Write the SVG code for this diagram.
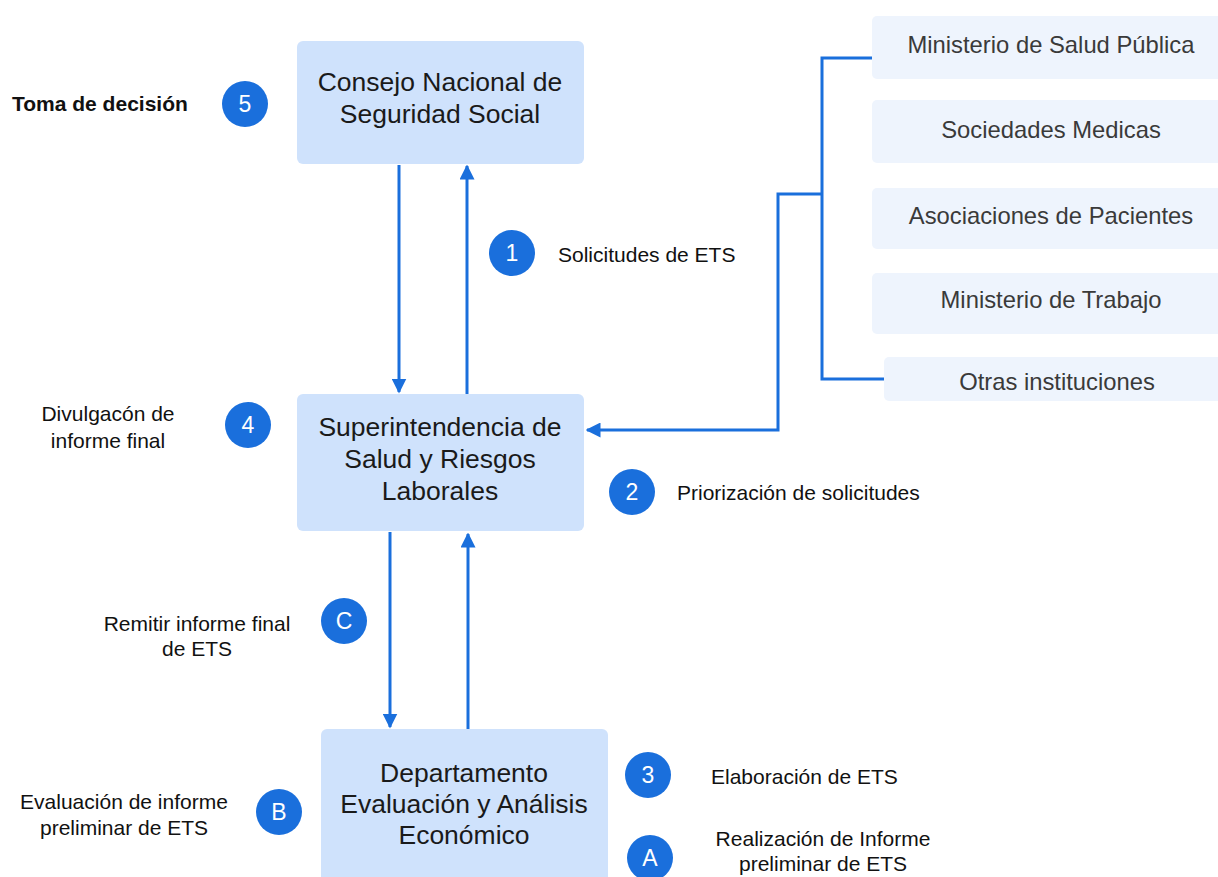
<svg xmlns="http://www.w3.org/2000/svg" width="1218" height="877" viewBox="0 0 1218 877">
<defs>
<marker id="ah" viewBox="0 0 10 10" refX="9" refY="5" markerWidth="5" markerHeight="5" orient="auto" markerUnits="strokeWidth">
<path d="M0,0 L10,5 L0,10 z" fill="#1a6fdc"/>
</marker>
<style>
.main{fill:#cfe2fc;}
.src{fill:#eef4fd;}
.bt{font-family:"Liberation Sans",Arial,sans-serif;font-size:26.5px;fill:#1a1a1a;text-anchor:middle;}
.st{font-family:"Liberation Sans",Arial,sans-serif;font-size:23.8px;fill:#3a3a3a;text-anchor:middle;}
.lb{font-family:"Liberation Sans",Arial,sans-serif;font-size:21px;fill:#111;}
.lbc{font-family:"Liberation Sans",Arial,sans-serif;font-size:21px;fill:#111;text-anchor:middle;}
.cc{fill:#1a6fdc;}
.ct{font-family:"Liberation Sans",Arial,sans-serif;font-size:23px;fill:#fff;text-anchor:middle;}
.ln{stroke:#1a6fdc;stroke-width:3;fill:none;}
</style>
</defs>
<rect width="1218" height="877" fill="#fff"/>
<g id="connectors">
<line class="ln" x1="399" y1="165" x2="399" y2="392" marker-end="url(#ah)"/>
<line class="ln" x1="467" y1="394" x2="467" y2="166" marker-end="url(#ah)"/>
<line class="ln" x1="390" y1="532" x2="390" y2="727" marker-end="url(#ah)"/>
<line class="ln" x1="468" y1="729" x2="468" y2="534" marker-end="url(#ah)"/>
<polyline class="ln" points="872,58 822,58 822,379 884,379"/>
<polyline class="ln" points="822,194 778,194 778,430 587,430" marker-end="url(#ah)"/>
</g>
<g id="n-consejo">
<rect class="main" x="297" y="41" width="287" height="123" rx="6"/>
<text class="bt" x="440" y="91">Consejo Nacional de</text>
<text class="bt" x="440" y="123">Seguridad Social</text>
</g>
<g id="n-super">
<rect class="main" x="297" y="394" width="287" height="137" rx="6"/>
<text class="bt" x="440" y="436">Superintendencia de</text>
<text class="bt" x="440" y="468">Salud y Riesgos</text>
<text class="bt" x="440" y="500">Laborales</text>
</g>
<g id="n-depto">
<rect class="main" x="321" y="729" width="287" height="160" rx="6"/>
<text class="bt" x="464" y="782">Departamento</text>
<text class="bt" x="464" y="813">Evaluación y Análisis</text>
<text class="bt" x="464" y="844">Económico</text>
</g>
<g id="n-msp">
<rect class="src" x="872" y="16" width="360" height="63" rx="5"/>
<text class="st" x="1051" y="53">Ministerio de Salud Pública</text>
</g>
<g id="n-socmed">
<rect class="src" x="872" y="100" width="360" height="63" rx="5"/>
<text class="st" x="1051" y="138">Sociedades Medicas</text>
</g>
<g id="n-asoc">
<rect class="src" x="872" y="188" width="360" height="61" rx="5"/>
<text class="st" x="1051" y="224">Asociaciones de Pacientes</text>
</g>
<g id="n-mtrab">
<rect class="src" x="872" y="273" width="360" height="61" rx="5"/>
<text class="st" x="1051" y="308">Ministerio de Trabajo</text>
</g>
<g id="n-otras">
<rect class="src" x="884" y="357" width="350" height="44" rx="5"/>
<text class="st" x="1057" y="390">Otras instituciones</text>
</g>
<g id="step-5">
<circle class="cc" cx="245" cy="104" r="23"/>
<text class="ct" x="245" y="112">5</text>
<text class="lb" x="12" y="111" font-weight="bold">Toma de decisión</text>
</g>
<g id="step-1">
<circle class="cc" cx="512" cy="253" r="23"/>
<text class="ct" x="512" y="261">1</text>
<text class="lb" x="558" y="262">Solicitudes de ETS</text>
</g>
<g id="step-4">
<circle class="cc" cx="248" cy="425" r="23"/>
<text class="ct" x="248" y="433">4</text>
<text class="lbc" x="108" y="421">Divulgacón de</text>
<text class="lbc" x="108" y="448">informe final</text>
</g>
<g id="step-2">
<circle class="cc" cx="632" cy="492" r="23"/>
<text class="ct" x="632" y="500">2</text>
<text class="lb" x="677" y="500">Priorización de solicitudes</text>
</g>
<g id="step-C">
<circle class="cc" cx="344" cy="621" r="23"/>
<text class="ct" x="344" y="629">C</text>
<text class="lbc" x="197" y="631">Remitir informe final</text>
<text class="lbc" x="197" y="656">de ETS</text>
</g>
<g id="step-3">
<circle class="cc" cx="648" cy="775" r="23"/>
<text class="ct" x="648" y="783">3</text>
<text class="lb" x="711" y="784">Elaboración de ETS</text>
</g>
<g id="step-B">
<circle class="cc" cx="279" cy="812" r="23"/>
<text class="ct" x="279" y="820">B</text>
<text class="lbc" x="124" y="809">Evaluación de informe</text>
<text class="lbc" x="124" y="835">preliminar de ETS</text>
</g>
<g id="step-A">
<circle class="cc" cx="650" cy="858" r="23"/>
<text class="ct" x="650" y="866">A</text>
<text class="lbc" x="823" y="846">Realización de Informe</text>
<text class="lbc" x="823" y="871">preliminar de ETS</text>
</g>
</svg>
